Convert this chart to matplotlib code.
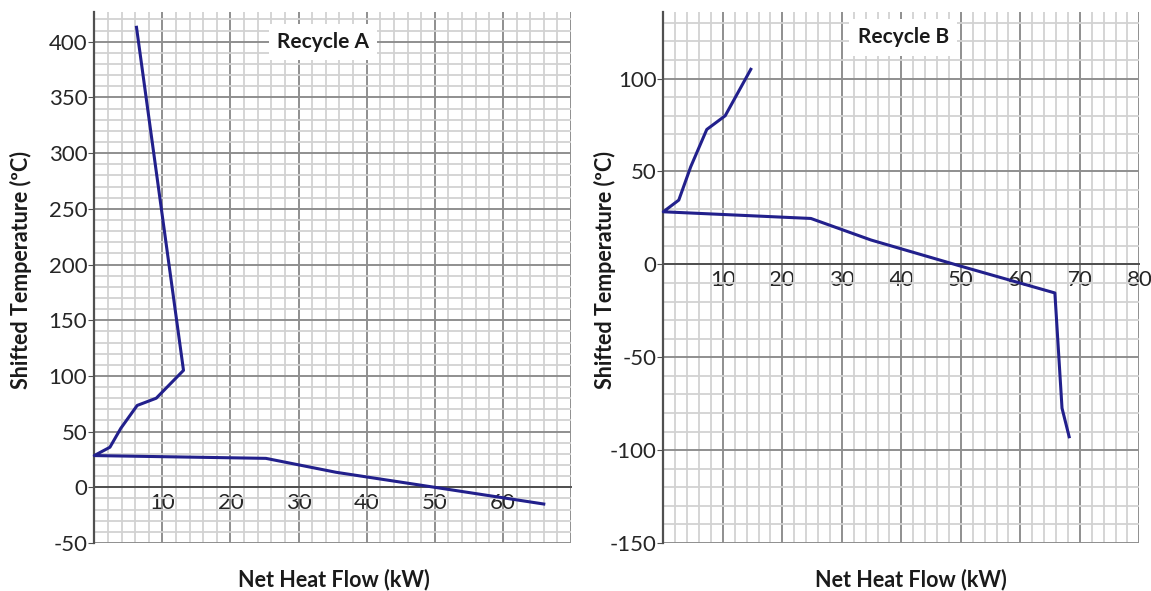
import numpy as np
import matplotlib
matplotlib.use("Agg")
import matplotlib.pyplot as plt

plt.rcParams['font.family'] = ['Lato', 'DejaVu Sans']
plt.rcParams['axes.unicode_minus'] = False

# Recycle A grand composite curve (kW, shifted °C)
heat_a = [6.2, 13.1, 9.1, 6.3, 3.9, 2.3, 0.0, 25.2, 35.5, 50.0, 66.0]
temp_a = [413, 105, 80, 73.5, 53, 36, 28.5, 26, 13.5, 0, -15]

# Recycle B grand composite curve
heat_b = [14.7, 10.4, 7.3, 4.6, 2.6, 0.0, 24.8, 34.9, 49.9, 65.8, 67.0, 68.2]
temp_b = [105, 80, 72.6, 52.5, 34.6, 28.3, 24.7, 13.1, -0.9, -15.4, -77.4, -92.8]

# x labels shown on each chart (none at 0, none at 70 on chart A)
xlab_a = ['', '10', '20', '30', '40', '50', '60', '']
xlab_b = ['', '10', '20', '30', '40', '50', '60', '70', '80']

line_color = '#22208c'
major_col = '#8f8f8f'
minor_col = '#d2d2d2'
axis_col = '#505050'

fig = plt.figure(figsize=(11.51, 5.91), dpi=100)
ax_a = fig.add_axes([0.0819, 0.0812, 0.4142, 0.899])
ax_b = fig.add_axes([0.5763, 0.0812, 0.4136, 0.899])


def style_axes(ax, xmax, ymin, ymax, yticks, xlabels):
    ax.set_xlim(0, xmax)
    ax.set_ylim(ymin, ymax)
    ax.set_xticks(np.arange(0, xmax + 1, 10))
    ax.set_xticks(np.arange(0, xmax + 1, 2), minor=True)
    ax.set_yticks(yticks)
    ax.set_yticks(np.arange(ymin, ymax, 10), minor=True)
    ax.set_xticklabels(xlabels)
    ax.grid(which='minor', color=minor_col, lw=1.3, zorder=0)
    ax.grid(which='major', color=major_col, lw=1.4, zorder=0)
    ax.set_axisbelow(True)
    for s in ['top', 'right']:
        ax.spines[s].set_visible(False)
    ax.spines['bottom'].set_position(('data', 0))
    ax.spines['bottom'].set_color(axis_col)
    ax.spines['bottom'].set_linewidth(1.4)
    ax.spines['left'].set_color(axis_col)
    ax.spines['left'].set_linewidth(1.6)
    ax.tick_params(axis='y', which='major', length=4, color=axis_col,
                   labelsize=16, labelcolor='#262626', pad=1)
    ax.tick_params(axis='x', which='major', length=0, labelsize=16,
                   labelcolor='#262626', pad=4)
    ax.tick_params(which='minor', length=0)


style_axes(ax_a, 70, -50, 427, np.arange(-50, 401, 50), xlab_a)
style_axes(ax_b, 80, -150, 136, np.arange(-150, 101, 50), xlab_b)

ax_a.plot(heat_a, temp_a, color=line_color, lw=2.2, zorder=3, clip_on=False)
ax_b.plot(heat_b, temp_b, color=line_color, lw=2.2, zorder=3, clip_on=False)

box = dict(facecolor='white', edgecolor='none', pad=6)
ax_a.text(0.48, 0.943, 'Recycle A', transform=ax_a.transAxes, ha='center',
          va='center', fontsize=15, fontweight='bold', color='#1a1a1a', bbox=box)
ax_b.text(0.504, 0.952, 'Recycle B', transform=ax_b.transAxes, ha='center',
          va='center', fontsize=15, fontweight='bold', color='#1a1a1a', bbox=box)

for ax, lx, xx in [(ax_a, -0.131, 0.503), (ax_b, -0.099, 0.52)]:
    ax.set_ylabel('Shifted Temperature (ºC)', fontsize=15.5, fontweight='bold',
                  color='#1a1a1a')
    ax.yaxis.set_label_coords(lx, 0.514)
    ax.set_xlabel('Net Heat Flow (kW)', fontsize=15.5, fontweight='bold',
                  color='#1a1a1a')
    ax.xaxis.set_label_coords(xx, -0.049)

fig.savefig('out.png', dpi=100)
